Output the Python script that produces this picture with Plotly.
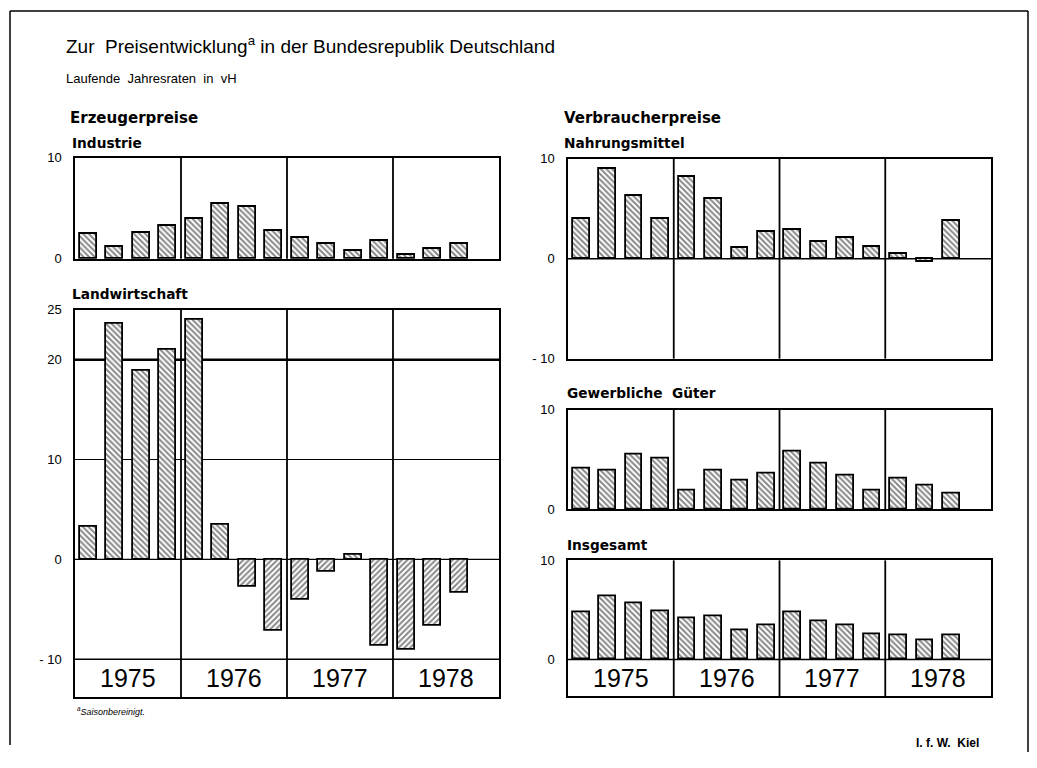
import plotly.graph_objects as go

# figure size; the mapping below compensates page margin / plotting-area offset
W, H = 1021, 744
OX = 8
OY, HP = 13.9, 730.0

years = ["1975", "1976", "1977", "1978"]
quarters = list(range(16))  # Q1 1975 ... Q4 1978

industrie = [2.5, 1.2, 2.6, 3.3, 4.0, 5.4, 5.1, 2.8, 2.1, 1.5, 0.8, 1.8, 0.4, 1.0, 1.5, None]
landwirtschaft = [3.3, 23.6, 18.9, 21.0, 24.0, 3.5, -2.7, -7.1, -4.0, -1.2, 0.5, -8.6, -9.0, -6.6, -3.3, None]
nahrungsmittel = [4.0, 9.0, 6.3, 4.0, 8.2, 6.0, 1.1, 2.7, 2.9, 1.7, 2.1, 1.2, 0.5, -0.3, 3.8, None]
gewerbliche = [4.1, 3.9, 5.5, 5.1, 1.9, 3.9, 2.9, 3.6, 5.8, 4.6, 3.4, 1.9, 3.1, 2.4, 1.6, None]
insgesamt = [4.8, 6.4, 5.7, 4.9, 4.1, 4.4, 2.9, 3.4, 4.8, 3.8, 3.4, 2.5, 2.4, 1.9, 2.4, None]


def px(x):
    return (x - OX) / W


def py(y):
    return 1 - (y - OY) / HP


def xd(a, b):
    return [px(a), px(b)]


def yd(top, bot):
    return [py(bot), py(top)]


FONT = "Liberation Sans, Arial, sans-serif"
HEAD = "DejaVu Sans, Verdana, sans-serif"

panels = [
    (industrie, "", (75, 499), (157, 258), [0, 10], [0, 10], ["0", "10"]),
    (landwirtschaft, "2", (75, 499), (309, 697), [-13.8, 25], [-10, 0, 10, 20, 25], ["- 10", "0", "10", "20", "25"]),
    (nahrungsmittel, "3", (568, 991), (158, 358), [-10, 10], [-10, 0, 10], ["- 10", "0", "10"]),
    (gewerbliche, "4", (568, 991), (409, 509), [0, 10], [0, 10], ["0", "10"]),
    (insgesamt, "5", (568, 991), (560, 696), [-3.7, 10], [0, 10], ["0", "10"]),
]

fig = go.Figure()
layout = {}
shapes = []
annotations = []

for vals, s, (x0, x1), (y0, y1), rng, tv, tt in panels:
    pat = ["/" if (v is not None and v < 0) else "\\" for v in vals]
    fig.add_trace(go.Bar(
        x=quarters, y=vals, width=0.63,
        xaxis="x" + s, yaxis="y" + s,
        marker=dict(
            color="white",
            line=dict(color="black", width=1.8),
            pattern=dict(shape=pat, fgcolor="#111111", bgcolor="white",
                         size=4, solidity=0.5, fillmode="overlay"),
        ),
        showlegend=False, hoverinfo="skip",
    ))
    layout["xaxis" + s] = dict(
        domain=xd(x0, x1), range=[-0.5, 15.5], anchor="y" + s,
        showticklabels=False, ticks="", showgrid=False, zeroline=False,
        showline=True, mirror=True, linecolor="black", linewidth=1.5,
    )
    layout["yaxis" + s] = dict(
        domain=yd(y0, y1), range=rng, anchor="x" + s,
        tickvals=tv, ticktext=tt, ticks="", showgrid=False, zeroline=False,
        showline=True, mirror=True, linecolor="black", linewidth=1.5,
        ticklabelstandoff=9,
        tickfont=dict(family=FONT, size=13, color="black"),
    )
    for d in [3.5, 7.5, 11.5]:
        shapes.append(dict(type="line", xref="x" + s, yref="y" + s + " domain",
                           x0=d, x1=d, y0=0, y1=1,
                           line=dict(color="black", width=1.8), layer="above"))


def hline(s, y, w, layer="below"):
    shapes.append(dict(type="line", xref="x" + s + " domain", yref="y" + s,
                       x0=0, x1=1, y0=y, y1=y, line=dict(color="black", width=w),
                       layer=layer))


hline("2", 20, 2.5)
hline("2", 10, 1.2)
hline("2", 0, 1.4)
hline("2", -10, 1.5, "above")
hline("3", 0, 1.6)
hline("5", 0, 1.5, "above")

for s, yb in [("2", -11.9), ("5", -1.85)]:
    for i, yr in enumerate(years):
        annotations.append(dict(text=yr, xref="x" + s, yref="y" + s, x=4 * i + 1.5, y=yb,
                                showarrow=False, xanchor="center", yanchor="middle",
                                font=dict(family="Liberation Sans Narrow, Liberation Sans, sans-serif",
                                          size=25, color="black")))

# page frame
for (a, b, c, d) in [(10, 10, 1028, 10), (10, 10, 10, 745), (1028, 10, 1028, 757)]:
    shapes.append(dict(type="line", xref="paper", yref="paper",
                       x0=px(a), y0=py(b), x1=px(c), y1=py(d),
                       line=dict(color="black", width=1.5)))


def text(t, x, y, size, bold=False, italic=False, family=FONT):
    if bold:
        t = "<b>" + t + "</b>"
    if italic:
        t = "<i>" + t + "</i>"
    annotations.append(dict(text=t, xref="paper", yref="paper", x=px(x), y=py(y),
                            xanchor="left", yanchor="middle", showarrow=False,
                            font=dict(family=family, size=size, color="black")))


text("Zur  Preisentwicklung<sup>a</sup> in der Bundesrepublik Deutschland", 64, 44, 19)
text("Laufende  Jahresraten  in  vH", 64, 77, 13)
text("Erzeugerpreise", 68, 117, 15, bold=True, family=HEAD)
text("Industrie", 70, 142, 13.7, bold=True, family=HEAD)
text("Landwirtschaft", 70, 293, 13.7, bold=True, family=HEAD)
text("Verbraucherpreise", 562, 117, 15, bold=True, family=HEAD)
text("Nahrungsmittel", 562, 142, 13.7, bold=True, family=HEAD)
text("Gewerbliche  Güter", 565, 392, 13.7, bold=True, family=HEAD)
text("Insgesamt", 565, 545, 13.7, bold=True, family=HEAD)
text("<sup>a</sup>Saisonbereinigt.", 75, 711, 9, italic=True)
text("I. f. W.  Kiel", 914, 743, 12, bold=True)

fig.update_layout(
    width=W, height=H, autosize=False,
    margin=dict(l=0, r=0, t=0, b=0, pad=0),
    paper_bgcolor="white", plot_bgcolor="white",
    shapes=shapes, annotations=annotations, bargap=0,
    **layout,
)

fig.write_html("out.html")
